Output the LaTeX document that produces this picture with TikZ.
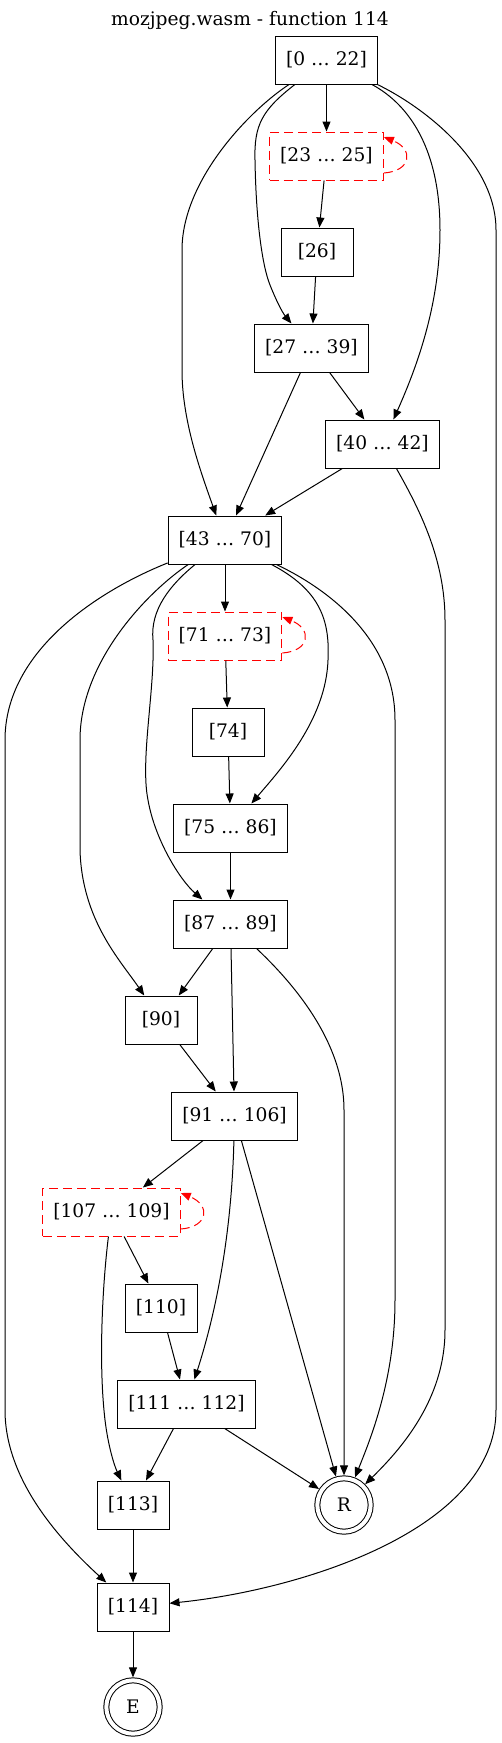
\documentclass[tikz,border=0pt]{standalone}
\usepackage{fontspec}
\setmainfont{DejaVu Serif}
\usetikzlibrary{
    arrows.meta,
    calc
}
\tikzset{
    block/.style = {
        rectangle,
        draw,
        line width=0.75pt,
        minimum width=54pt,
        minimum height=36pt,
        inner xsep=7.92pt,
        font=\fontsize{14pt}{16pt}\selectfont
    },
    loopblock/.style = {
        block,
        draw=red,
        dash pattern=on 6.75pt off 3.75pt
    },
    terminal/.style = {
        circle,
        draw,
        double,
        double distance=3pt,
        line width=0.75pt,
        minimum size=40pt,
        inner sep=0pt,
        outer sep=2.25pt,
        font=\fontsize{14pt}{16pt}\selectfont
    },
    arrow/.style = {
        -{Triangle[length=7.5pt,width=6pt]},
        line width=0.75pt
    },
    looparrow/.style = {
        arrow,
        red,
        dash pattern=on 6.75pt off 3.75pt
    }
}

\begin{document}
\begin{tikzpicture}[x=0.75pt,y=-0.75pt]
\useasboundingbox (0,0) rectangle (501,1743);
\node (title) at (250,20) [font=\fontsize{14pt}{16pt}\selectfont] {mozjpeg.wasm - function 114};

\node (B0)   at (326.5,60)   [block]     {[0 … 22]};
\node (B23)  at (326.5,156)  [loopblock] {[23 … 25]};
\node (B26)  at (317,252)    [block]     {[26]};
\node (B27)  at (311.5,348)  [block]     {[27 … 39]};
\node (B40)  at (382.5,444)  [block]     {[40 … 42]};
\node (B43)  at (225,540)    [block]     {[43 … 70]};
\node (B71)  at (225,636)    [loopblock] {[71 … 73]};
\node (B74)  at (228,732)    [block]     {[74]};
\node (B75)  at (230.5,828)  [block]     {[75 … 86]};
\node (B87)  at (230.5,924)  [block]     {[87 … 89]};
\node (B90)  at (161,1020)   [block]     {[90]};
\node (B91)  at (234.5,1116) [block]     {[91 … 106]};
\node (B107) at (111.5,1212) [loopblock] {[107 … 109]};
\node (B110) at (161,1308)   [block]     {[110]};
\node (B111) at (186.5,1404) [block]     {[111 … 112]};
\node (B113) at (133,1505)   [block]     {[113]};
\node (R)    at (344,1505)   [terminal]  {R};
\node (B114) at (133,1607)   [block]     {[114]};
\node (E)    at (133,1707)   [terminal]  {E};

% self loops
\draw[looparrow] ($(B23.east)+(0,17)$) .. controls +(28,-2) and +(30,12) .. ($(B23.east)+(0,-19)$);
\draw[looparrow] ($(B71.east)+(0,17)$) .. controls +(28,-2) and +(30,12) .. ($(B71.east)+(0,-19)$);
\draw[looparrow] ($(B107.east)+(0,17)$) .. controls +(28,-2) and +(30,12) .. ($(B107.east)+(0,-19)$);

% from [0 ... 22]
\draw[arrow] (B0) -- (B23);
\draw[arrow] (B0) .. controls (262,110) and (254,125) .. (255,160) .. controls (256,220) and (262,265) .. (270,285) .. controls (276,300) and (282,312) .. (B27);
\draw[arrow] (B0) .. controls (250,110) and (182,180) .. (182,250) -- (182,370) .. controls (182,420) and (200,470) .. (B43);
\draw[arrow] (B0) .. controls (410,105) and (440,150) .. (440,230) .. controls (440,300) and (420,360) .. (B40);
\draw[arrow] (B0) .. controls (420,105) and (496,160) .. (496,230) -- (496,1410) .. controls (496,1530) and (300,1590) .. (B114);

\draw[arrow] (B23) -- (B26);
\draw[arrow] (B26) -- (B27);
\draw[arrow] (B27) -- (B43);
\draw[arrow] (B27) -- (B40);
\draw[arrow] (B40) -- (B43);
\draw[arrow] (B40) .. controls (420,510) and (445,560) .. (445,620) -- (445,1330) .. controls (445,1400) and (400,1450) .. (R);

% from [43 ... 70]
\draw[arrow] (B43) -- (B71);
\draw[arrow] (B43) .. controls (320,590) and (330,620) .. (328,660) .. controls (326,720) and (280,770) .. (B75);
\draw[arrow] (B43) .. controls (170,585) and (150,610) .. (153,640) .. controls (155,690) and (140,760) .. (148,800) .. controls (155,840) and (180,880) .. (B87);
\draw[arrow] (B43) .. controls (150,590) and (80,660) .. (80,740) -- (80,850) .. controls (82,920) and (120,960) .. (B90);
\draw[arrow] (B43) .. controls (100,590) and (5,650) .. (5,740) -- (5,1410) .. controls (5,1480) and (60,1540) .. (B114);
\draw[arrow] (B43) .. controls (330,590) and (395,640) .. (395,720) -- (395,1300) .. controls (395,1380) and (370,1440) .. (R);

\draw[arrow] (B71) -- (B74);
\draw[arrow] (B74) -- (B75);
\draw[arrow] (B75) -- (B87);

% from [87 ... 89]
\draw[arrow] (B87) -- (B90);
\draw[arrow] (B87) -- (B91);
\draw[arrow] (B87) .. controls (290,980) and (344,1040) .. (344,1110) -- (R);
\draw[arrow] (B90) -- (B91);

% from [91 ... 106]
\draw[arrow] (B91) -- (B107);
\draw[arrow] (B91) .. controls (232,1220) and (220,1300) .. (B111);
\draw[arrow] (B91) -- (R);

\draw[arrow] (B107) -- (B110);
\draw[arrow] (B107) .. controls (103,1280) and (98,1360) .. (105,1420) .. controls (108,1445) and (114,1465) .. (B113);
\draw[arrow] (B110) -- (B111);
\draw[arrow] (B111) -- (B113);
\draw[arrow] (B111) -- (R);
\draw[arrow] (B113) -- (B114);
\draw[arrow] (B114) -- (E);
\end{tikzpicture}
\end{document}
